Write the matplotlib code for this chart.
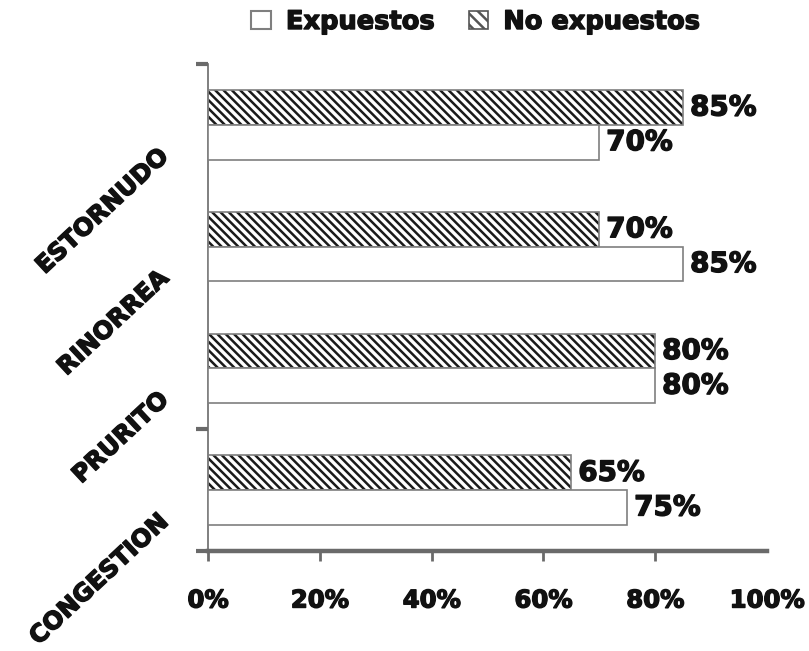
import matplotlib.pyplot as plt
import matplotlib.patches as mpatches
import matplotlib.patheffects as pe
import numpy as np

# síntomas, de abajo hacia arriba
categorias = ["CONGESTION", "PRURITO", "RINORREA", "ESTORNUDO"]
expuestos = [75, 80, 85, 70]
no_expuestos = [65, 80, 70, 85]
xticks = [0, 20, 40, 60, 80, 100]
xtick_labels = ["0%", "20%", "40%", "60%", "80%", "100%"]

plt.rcParams["font.family"] = "DejaVu Sans"
plt.rcParams["font.weight"] = "bold"
plt.rcParams["hatch.linewidth"] = 1.8

borde = "#7f7f7f"
eje = "#6a6a6a"
tinta = "#111111"
alto = 0.285
grueso = [pe.withStroke(linewidth=1.0, foreground=tinta)]

fig = plt.figure(figsize=(8.09, 6.51), dpi=100)
ax = fig.add_axes([208 / 809, 1 - 551 / 651, 559 / 809, 487 / 651])

y = np.arange(len(categorias))

# barras rayadas (no expuestos) encima, blancas (expuestos) debajo
rayas = ax.barh(y + alto / 2, no_expuestos, height=alto, color="white",
                edgecolor="#1a1a1a", hatch="\\\\\\\\", linewidth=0, zorder=2)
ax.barh(y + alto / 2, no_expuestos, height=alto, fill=False,
        edgecolor=borde, linewidth=1.2, zorder=3)
blancas = ax.barh(y - alto / 2, expuestos, height=alto, color="white",
                  edgecolor=borde, linewidth=1.2, zorder=3)

for barras, vals in [(rayas, no_expuestos), (blancas, expuestos)]:
    textos = ax.bar_label(barras, labels=[f"{v}%" for v in vals], padding=5,
                          fontsize=20, fontweight="bold", color=tinta)
    for t in textos:
        t.set_path_effects(grueso)

ax.set_xlim(0, 100)
ax.set_ylim(-0.5, 3.5)

# eje x
ax.set_xticks(xticks, labels=xtick_labels)
ax.tick_params(axis="x", length=7, width=2, color=eje, pad=20,
               labelsize=17.5, labelcolor=tinta)
ax.xaxis.get_major_ticks()[-1].tick1line.set_visible(False)

# eje y: etiquetas inclinadas sin marca, marcas sueltas como menores
ax.set_yticks(y - 0.23, labels=categorias)
ax.tick_params(axis="y", which="major", length=0, pad=31, labelsize=17.5,
               labelcolor=tinta)
for lab in ax.get_yticklabels():
    lab.set_rotation(43)
    lab.set_rotation_mode("anchor")
    lab.set_ha("right")
    lab.set_va("center")
    lab.set_path_effects(grueso)
for lab in ax.get_xticklabels():
    lab.set_path_effects(grueso)
ax.set_yticks([-0.5, 0.5, 3.5], minor=True)
ax.tick_params(axis="y", which="minor", length=9, width=3, color=eje)

for s in ["top", "right"]:
    ax.spines[s].set_visible(False)
ax.spines["bottom"].set_color(eje)
ax.spines["bottom"].set_linewidth(3.2)
ax.spines["left"].set_color(eje)
ax.spines["left"].set_linewidth(1.2)

# leyenda con cuadritos propios
h_exp = mpatches.Patch(facecolor="white", edgecolor=borde, linewidth=1.5)
h_no = mpatches.Patch(facecolor="white", edgecolor="#555555", hatch="\\\\\\",
                      linewidth=1.2)
ley = fig.legend([h_exp, h_no], ["Expuestos", "No expuestos"], loc="center",
                 bbox_to_anchor=(476 / 809, 1 - 22 / 651), ncol=2,
                 frameon=False, fontsize=18.5, handlelength=0.75,
                 handleheight=0.75, handletextpad=0.6, columnspacing=1.3)
for t in ley.get_texts():
    t.set_path_effects(grueso)
    t.set_color(tinta)

fig.savefig("out.png", dpi=100)
